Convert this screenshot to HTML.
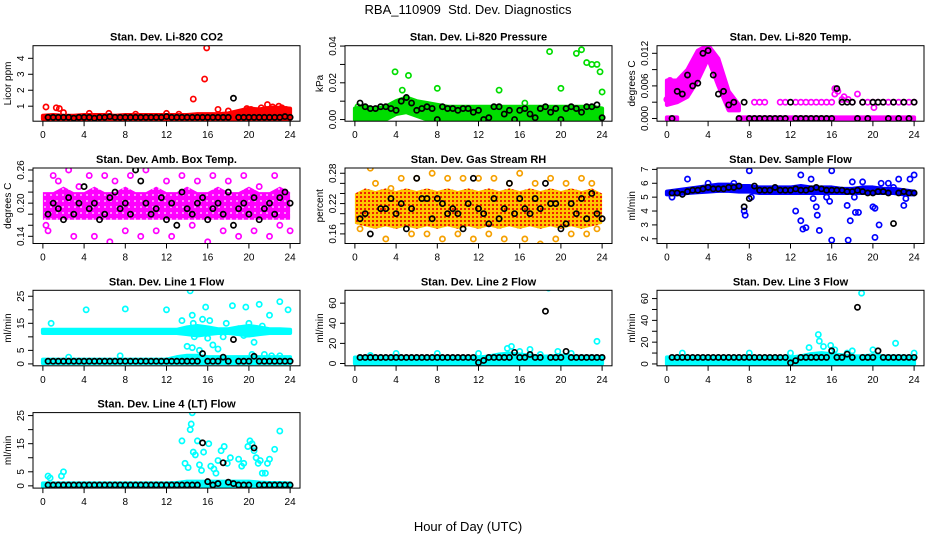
<!DOCTYPE html>
<html><head><meta charset="utf-8"><style>
body{margin:0;background:#fff;}
svg{display:block;font-family:"Liberation Sans",sans-serif;}
</style></head><body>
<svg id="chart" width="936" height="540" viewBox="0 0 936 540">
<defs>
<pattern id="patRH" width="4" height="4" patternUnits="userSpaceOnUse"><rect width="4" height="4" fill="#ffc400"/><rect x="0" y="0" width="2" height="2" fill="#f02000"/></pattern>
<pattern id="patAmb" width="6" height="6" patternUnits="userSpaceOnUse"><rect width="6" height="6" fill="#ff00ff"/><circle cx="3" cy="3" r="1" fill="#ffb0ff"/></pattern>
</defs>
<text x="468" y="14" text-anchor="middle" font-size="13" xml:space="preserve">RBA_110909  Std. Dev. Diagnostics</text>
<text x="468" y="531" text-anchor="middle" font-size="13">Hour of Day (UTC)</text>
</svg>
<script>
const hours=[0,1,2,3,4,5,6,7,8,9,10,11,12,13,14,15,16,17,18,19,20,21,22,23,24];
const blackX=[0.5,1,1.5,2,2.5,3,3.5,4,4.5,5,5.5,6,6.5,7,7.5,8,8.5,9,9.5,10,10.5,11,11.5,12,12.5,13,13.5,14,14.5,15,15.5,16,16.5,17,17.5,18,18.5,19,19.5,20,20.5,21,21.5,22,22.5,23,23.5,24];
const xTicks=[0,4,8,12,16,20,24];
const titles=["Stan. Dev. Li-820 CO2","Stan. Dev. Li-820 Pressure","Stan. Dev. Li-820 Temp.","Stan. Dev. Amb. Box Temp.","Stan. Dev. Gas Stream RH","Stan. Dev. Sample Flow","Stan. Dev. Line 1 Flow","Stan. Dev. Line 2 Flow","Stan. Dev. Line 3 Flow","Stan. Dev. Line 4 (LT) Flow"];
const yTitles=["Licor ppm","kPa","degrees C","degrees C","percent","ml/min","ml/min","ml/min","ml/min","ml/min"];
const colors=["#ff0000","#00dd00","#ff00ff","#ff00ff","#f5a000","#0000ff","#00ffff","#00ffff","#00ffff","#00ffff"];
const bandFills=["#ff0000","#00dd00","#ff00ff","url(#patAmb)","url(#patRH)","#0000ff","#00ffff","#00ffff","#00ffff","#00ffff"];
const yLims=[[0.06,4.79],[-0.0009,0.0402],[-0.0005,0.0134],[0.127,0.2636],[0.141,0.2904],[1.66,7.1],[-0.7,27.2],[-2.3,72.8],[-1.7,67.6],[-0.8,26.06]];
const yTicks=[[1,2,3,4],[0,0.01,0.02,0.03,0.04],[0,0.003,0.006,0.009,0.012],[0.14,0.16,0.18,0.20,0.22,0.24,0.26],[0.16,0.18,0.20,0.22,0.24,0.26,0.28],[2,3,4,5,6,7],[0,5,10,15,20,25],[0,20,40,60],[0,10,20,30,40,50,60],[0,5,10,15,20,25]];
const yTickLabels=[["1","2","3","4"],["0.00","","0.02","","0.04"],["0.000","","0.006","","0.012"],["0.14","","","0.20","","","0.26"],["0.16","","","0.22","","","0.28"],["2","3","4","5","6","7"],["0","5","","15","","25"],["0","20","40","60"],["0","","20","","40","","60"],["0","5","","15","","25"]];
const bandLo=[
[0.2,0.2,0.2,0.2,0.2,0.2,0.2,0.2,0.2,0.2,0.2,0.2,0.2,0.2,0.2,0.2,0.2,0.2,0.2,0.2,0.2,0.2,0.2,0.2,0.2],
[0,0,0,0,0.003,0.004,0.002,0,0,0,0,0,0,0,0,0,0,0,0,0,0,0,0,0,0],
[0.0025,0.003,0.004,0.007,0.011,0.006,0.0015,0.0015,null,null,null,null,null,null,null,null,null,null,null,null,null,null,null,null,null],
[0.17,0.17,0.17,0.17,0.17,0.17,0.17,0.17,0.17,0.17,0.17,0.17,0.17,0.17,0.17,0.17,0.17,0.17,0.17,0.17,0.17,0.17,0.17,0.17,0.17],
[0.18,0.175,0.17,0.175,0.17,0.175,0.17,0.175,0.17,0.175,0.17,0.175,0.17,0.175,0.17,0.175,0.17,0.175,0.17,0.175,0.17,0.175,0.17,0.175,0.18],
[5.2,5.2,5.3,5.35,5.4,5.45,5.45,5.4,5.4,5.3,5.3,5.3,5.3,5.3,5.3,5.3,5.3,5.3,5.3,5.3,5.3,5.3,5.3,5.2,5.2],
[11.4,11.4,11.4,11.4,11.4,11.4,11.4,11.4,11.4,11.4,11.4,11.4,11.4,11.4,11.0,10.5,11.0,11.4,11.4,11.0,10.5,11.0,11.4,11.4,11.4],
[0,0,0,0,0,0,0,0,0,0,0,0,0,0,0,0,0,0,0,0,0,0,0,0,0],
[0,0,0,0,0,0,0,0,0,0,0,0,0,0,0,0,0,0,0,0,0,0,0,0,0],
[-0.3,-0.3,-0.3,-0.3,-0.3,-0.3,-0.3,-0.3,-0.3,-0.3,-0.3,-0.3,-0.3,-0.3,-0.3,-0.3,-0.3,-0.3,-0.3,-0.3,-0.3,-0.3,-0.3,-0.3,-0.3]];
const bandHi=[
[0.4,0.45,0.4,0.4,0.45,0.45,0.45,0.4,0.45,0.45,0.45,0.45,0.45,0.45,0.45,0.5,0.5,0.5,0.55,0.7,0.85,0.8,0.9,0.9,0.85],
[0.006,0.007,0.006,0.007,0.01,0.012,0.01,0.009,0.008,0.007,0.007,0.007,0.007,0.007,0.007,0.007,0.007,0.007,0.007,0.007,0.007,0.007,0.007,0.007,0.006],
[0.007,0.007,0.009,0.0125,0.0135,0.011,0.005,0.0025,null,null,null,null,null,null,null,null,null,null,null,null,null,null,null,null,null],
[0.22,0.22,0.23,0.22,0.22,0.23,0.22,0.22,0.23,0.22,0.22,0.23,0.22,0.22,0.23,0.22,0.22,0.23,0.22,0.22,0.23,0.22,0.22,0.23,0.22],
[0.24,0.25,0.245,0.25,0.245,0.25,0.245,0.25,0.245,0.25,0.245,0.25,0.245,0.25,0.245,0.25,0.245,0.25,0.245,0.25,0.245,0.25,0.245,0.25,0.24],
[5.4,5.5,5.6,5.7,5.8,5.9,5.9,5.8,5.8,5.7,5.7,5.7,5.7,5.8,5.7,5.7,5.7,5.6,5.6,5.7,5.7,5.6,5.6,5.5,5.4],
[12.6,12.6,12.6,12.6,12.6,12.6,12.6,12.6,12.6,12.6,12.6,12.6,12.6,12.6,13.5,14,13.5,12.8,12.8,13.5,14,13.5,12.8,12.8,12.6],
[6,6,6,6,6,6,6,6,6,6,6,6,6,7,9,10,9,8,7,7,8,7,7,7,6],
[6,6,6,6,6,6,6,6,6,6,6,6,6,7,9,10,9,8,7,7,8,7,7,7,6],
[0.9,0.9,0.9,0.9,0.9,0.9,0.9,0.9,0.9,0.9,0.9,0.9,0.9,1.0,1.5,1.5,1.5,1.5,1.5,1.5,1.5,1.2,1.0,1.0,0.9]];
const band2Lo=[null,null,
[-0.0002,-0.0002,null,null,null,null,null,-0.0002,-0.0002,-0.0002,-0.0002,-0.0002,-0.0002,-0.0002,-0.0002,-0.0002,-0.0002,-0.0002,-0.0002,-0.0002,-0.0002,-0.0002,-0.0002,-0.0002,-0.0002],
null,null,null,
[0.3,0.3,0.3,0.3,0.3,0.3,0.3,0.3,0.3,0.3,0.3,0.3,0.3,0.3,0.3,0.3,0.3,0.3,0.3,0.3,0.3,0.3,0.3,0.3,0.3],
null,null,null];
const band2Hi=[null,null,
[0.0002,0.0002,null,null,null,null,null,0.0002,0.0002,0.0002,0.0002,0.0002,0.0002,0.0002,0.0002,0.0002,0.0002,0.0002,0.0002,0.0002,0.0002,0.0002,0.0002,0.0002,0.0002],
null,null,null,
[1.6,1.6,1.6,1.6,1.6,1.6,1.6,1.6,1.6,1.6,1.6,1.6,1.6,2.5,3,3,2.5,2.5,2.5,2.5,2.5,2.5,2.5,2.5,2.5],
null,null,null];
const colX=[
[0.3,1.3,1.6,2.0,4.5,6.4,9.0,12.0,13.2,14.6,15.7,15.9,17.0,18.0,19.8,20.2,21.2,21.8,22.3,22.9,23.2,23.6],
[0.3,3.9,4.6,5.2,8.0,14.0,16.5,18.9,20.0,21.5,22.0,22.5,23.0,23.5,23.8,24.0],
[0,0.3,8.5,9,9.5,11,11.5,12.5,13,13.5,14,14.5,15,15.5,16,16.3,16.6,17,17.2,17.6,18,18.5,19,19.5,20,20.5,21,21.5,22,22.5,23,23.5,24,20.1,16.3],
[0.3,0.5,1,1.5,2.5,3,3.5,4.5,5,6,6.5,7,8,8.5,9.5,10,11,12,12.5,13.5,14.5,15,16,16.5,17.5,18,19,19.5,20.5,21,22,22.5,23,23.5,24],
[0.5,1.5,2,3,3.5,4.5,5.5,6,7,7.5,8.5,9,10,10.5,11.5,12,13,13.5,14.5,15,16,16.5,17.5,18,19,19.5,20.5,21,22,22.5,23,23.5],
[0.5,2,4,6.5,8,7.5,7.6,8.2,12.5,13,13,13.2,13.5,14,14.2,14.5,14.6,14.8,15.5,15.8,16,16,17.5,17.6,17.8,18,18.2,18.3,18.6,19,20,20.2,20.2,20.6,20.8,21.5,22.5,23,23.2,23.6,24,22],
[0.8,4.2,8.0,12,13.5,14,14.3,14.5,14.6,14.7,15.1,15.5,15.8,16,16.2,17,17.5,17.8,18.4,19,19.5,19.7,19.8,20,20.5,21.0,21.3,22,22.5,23,23.8,14.5,15.2,16.5,20.3,21.5,22.2,23,2.5,7.5],
[4,8,12,14.8,15.2,16,18,18.8,19.7,21,23.5,1.5,17],
[1.5,8,12,13.8,14.7,14.8,15.2,15.9,16.3,17.5,18,18.9,20,22.2,24],
[0.5,0.7,1.8,2.0,13.5,13.8,14.1,14.3,14.4,14.5,14.6,14.8,15.0,15.2,15.4,15.6,16.1,16.3,16.6,16.8,17.0,17.3,17.6,17.9,18.2,19.0,19.3,19.5,19.9,20.1,20.3,20.5,20.7,20.9,21.1,21.3,21.6,21.8,22.0,22.5,23.0]];
const colY=[
[0.95,0.9,0.85,0.6,0.55,0.55,0.5,0.55,0.5,1.45,2.7,4.65,0.8,0.7,0.85,0.8,0.9,1.1,0.95,1.0,0.9,0.8],
[0.007,0.026,0.016,0.024,0.017,0.016,0.009,0.037,0.017,0.036,0.038,0.031,0.03,0.03,0.026,0.015],
[0.0035,0.007,0.003,0.003,0.003,0.003,0.003,0.003,0.003,0.003,0.003,0.003,0.003,0.003,0.003,0.0045,0.005,0.0035,0.004,0.0035,0.003,0.0045,0.003,0.003,0.003,0.003,0.003,0.003,0.003,0.003,0.003,0.003,0.003,0.002,0.0055],
[0.16,0.15,0.25,0.24,0.26,0.14,0.23,0.25,0.14,0.25,0.13,0.24,0.15,0.25,0.14,0.26,0.15,0.24,0.14,0.25,0.16,0.24,0.13,0.25,0.15,0.24,0.14,0.25,0.15,0.23,0.14,0.25,0.16,0.22,0.15],
[0.17,0.29,0.26,0.15,0.25,0.27,0.16,0.27,0.16,0.28,0.15,0.27,0.16,0.27,0.15,0.27,0.16,0.27,0.15,0.26,0.28,0.15,0.26,0.14,0.27,0.15,0.26,0.16,0.27,0.16,0.26,0.17],
[5.0,6.3,6.0,6.0,6.9,4.0,3.7,5.0,4.0,6.6,3.3,2.7,2.8,6.3,4.9,4.3,3.7,2.6,5.0,4.7,6.9,1.9,4.4,1.9,3.3,6.1,5.0,3.9,3.9,6.1,4.3,4.2,2.1,3.0,6.0,6.0,6.3,4.4,4.9,6.3,6.6,5.7],
[15,20,20.3,20,16,6.5,27,18,15,10,13,16.5,21,9.5,16,5.5,10,15,21.5,13,10.5,21,11,15,8,22,14,18,12,23,20,6,5,7,3.5,3.5,3,3,2.5,3],
[10,10,10,15,17,12,9,75,12,10,22,8,14],
[10,10,10,15,27,21,16,17,13,10,12,65,13,19,10],
[3.5,2.8,3.5,5,16,8,6.5,20,22,26,12,11,16,7.5,5.5,12,15,7,6,4.5,9,12.5,14,8,10,9.5,7,8,14,16,15,12.5,10,8,9,4.5,4.5,8,9.5,13,19.5]];
const blackY=[
[0.3,0.3,0.3,0.3,0.3,0.25,0.3,0.3,0.3,0.25,0.3,0.3,0.35,0.3,0.3,0.3,0.3,0.3,0.3,0.3,0.3,0.3,0.3,0.35,0.3,0.3,0.3,0.3,0.3,0.3,0.3,0.3,0.3,0.3,0.3,0.3,1.5,0.3,0.3,0.3,0.3,0.3,0.3,0.3,0.3,0.3,0.35,0.3],
[0.009,0.007,0.006,0.006,0.007,0.007,0.006,0.005,0.010,0.012,0.009,0.005,0.006,0.007,0.006,0.0,0.007,0.006,0.006,0.005,0.006,0.006,0.004,0.005,0.0,0.001,0.007,0.007,0.003,0.005,0.0,0.005,0.006,0.003,0.001,0.006,0.007,0.004,0.006,0.0,0.006,0.007,0.006,0.004,0.007,0.007,0.008,0.001],
[0.0,0.005,0.0045,0.008,0.006,0.0065,0.012,0.0125,0.008,0.0045,0.005,0.0025,0.003,0.0,0.003,0.0,0.0,0.0,0.0,0.0,0.0,0.0,0.0,0.003,0.0,0.0,0.0,0.0,0.0,0.0,0.0,0.0,0.0055,0.003,0.003,0.003,0.0,0.003,0.0,0.003,0.003,0.003,0.0,0.003,0.0,0.003,0.0,0.003],
[0.18,0.20,0.19,0.17,0.21,0.18,0.20,0.23,0.19,0.20,0.17,0.18,0.21,0.22,0.19,0.20,0.18,0.26,0.24,0.20,0.18,0.19,0.21,0.17,0.20,0.16,0.22,0.19,0.18,0.20,0.21,0.17,0.19,0.20,0.18,0.22,0.16,0.19,0.20,0.18,0.21,0.17,0.19,0.20,0.18,0.21,0.22,0.20],
[0.19,0.20,0.16,0.13,0.21,0.21,0.23,0.20,0.22,0.17,0.21,0.27,0.23,0.23,0.19,0.23,0.22,0.20,0.21,0.20,0.17,0.22,0.27,0.21,0.20,0.18,0.23,0.19,0.21,0.26,0.20,0.23,0.21,0.20,0.23,0.21,0.26,0.22,0.22,0.17,0.18,0.22,0.20,0.23,0.19,0.24,0.20,0.19],
[5.3,5.3,5.2,5.4,5.5,5.5,5.6,5.7,5.6,5.6,5.6,5.7,5.7,5.8,4.3,4.9,5.8,5.5,5.5,5.5,5.7,5.5,5.5,5.5,5.6,5.5,5.5,5.6,5.7,5.6,5.5,5.5,5.5,5.5,5.4,5.4,5.5,5.4,5.3,5.3,5.4,5.4,5.3,3.1,5.3,5.4,5.3,5.3],
[1,1,1,1,1,1,1,1,1,1,1,1,1,1,1,1,1,1,1,1,1,1,1,1,1,1,1,1,1,1,3.8,1,1,1,2.5,1,9,1,1,1,2.8,1,1,1,1,1,1,1],
[6,6,6,6,6,6,6,6,6,6,6,6,6,6,6,6,6,6,6,6,6,6,6,1,3,6,6,6,6,6,11,6,6,9,6,6,52,6,6,6,12,6,6,6,6,6,6,6],
[6,6,6,6,6,6,6,6,6,6,6,6,6,6,6,6,6,6,6,6,6,6,6,1,3,6,6,6,6,6,6,12,6,6,9,6,52,6,6,6,12,6,6,6,6,6,6,6],
[0.3,0.3,0.3,0.3,0.3,0.3,0.3,0.3,0.3,0.3,0.3,0.3,0.3,0.3,0.3,0.3,0.3,0.3,0.3,0.3,0.3,0.3,0.3,0.3,0.3,0.3,0.3,0.3,0.3,0.3,15.3,1.5,0.3,0.8,8.2,1.3,0.8,0.3,0.3,0.3,13.5,0.3,0.3,0.3,0.3,0.3,0.3,0.3]];

const svg=document.getElementById('chart');
const NS='http://www.w3.org/2000/svg';
function mk(tag,attrs,parent){const e=document.createElementNS(NS,tag);for(const k in attrs)e.setAttribute(k,attrs[k]);(parent||svg).appendChild(e);return e;}
const W=267,H=75.5;
function drawBand(g,lo,hi,xs,ys,fill,color){
  let seg=[];
  const flush=()=>{if(seg.length>0){const pts=seg.map(i=>xs(hours[i])+','+ys(hi[i])).concat(seg.slice().reverse().map(i=>xs(hours[i])+','+ys(lo[i])));
    const p=mk('polygon',{points:pts.join(' '),fill:fill,stroke:fill.startsWith('url')?'none':color,'stroke-width':4,'stroke-linejoin':'round'},g);
    
    }seg=[];};
  for(let i=0;i<hours.length;i++){if(lo[i]===null||hi[i]===null)flush();else seg.push(i);}
  flush();
}
for(let p=0;p<10;p++){
  const col=p%3,row=Math.floor(p/3);
  const L=33+col*312,T=45.7+row*122.3;
  const g=mk('g',{});
  
  
  const xs=h=>L+(h+0.96)/25.92*W;
  const yl=yLims[p];
  const ys=v=>T+H-(v-yl[0])/(yl[1]-yl[0])*H;
  const clip=mk('clipPath',{id:'c'+p},g);mk('rect',{x:L,y:T,width:W,height:H},clip);
  const pg=mk('g',{'clip-path':'url(#c'+p+')'},g);
  
  
  const c=colors[p];
  drawBand(pg,bandLo[p],bandHi[p],xs,ys,bandFills[p],c);
  if(band2Lo[p])drawBand(pg,band2Lo[p],band2Hi[p],xs,ys,bandFills[p],c);
  colX[p].forEach((x,i)=>{const e=mk('circle',{cx:xs(x),cy:ys(colY[p][i]),r:2.6,fill:'none',stroke:c,'stroke-width':1.7},pg);
    
    });
  blackX.forEach((x,i)=>{const e=mk('circle',{cx:xs(x),cy:ys(blackY[p][i]),r:2.6,fill:'none',stroke:'#000','stroke-width':1.7},pg);
    
    });
  const box=mk('rect',{x:L,y:T,width:W,height:H,fill:'none',stroke:'#000','stroke-width':1},g);
  
  
  const t=mk('text',{x:L+W/2,y:T-5,'text-anchor':'middle','font-size':11,'font-weight':'bold'},g);t.textContent=titles[p];
  
  
  xTicks.forEach(v=>{mk('line',{x1:xs(v),x2:xs(v),y1:T+H,y2:T+H+5,stroke:'#000'},g);
    const tl=mk('text',{x:xs(v),y:T+H+17,'text-anchor':'middle','font-size':10},g);tl.textContent=v;
    
    });
  yTicks[p].forEach((v,i)=>{mk('line',{x1:L-5,x2:L,y1:ys(v),y2:ys(v),stroke:'#000'},g);
    const lab=yTickLabels[p][i];
    if(lab){const tl=mk('text',{x:0,y:0,'text-anchor':'middle','font-size':10,transform:'translate('+(L-9)+','+ys(v)+') rotate(-90)'},g);tl.textContent=lab;
      
      }});
  const yt=mk('text',{x:0,y:0,'text-anchor':'middle','font-size':10,transform:'translate('+(L-22)+','+(T+H/2)+') rotate(-90)'},g);yt.textContent=yTitles[p];
  
  
}
</script>
</body></html>
